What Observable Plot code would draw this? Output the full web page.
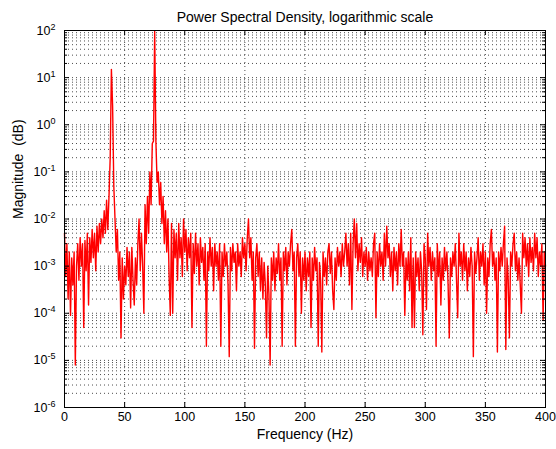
<!DOCTYPE html>
<html>
<head>
<meta charset="utf-8">
<script src="https://cdn.jsdelivr.net/npm/d3@7"></script>
<script src="https://cdn.jsdelivr.net/npm/@observablehq/plot@0.6"></script>
<style>
  html, body { margin: 0; padding: 0; background: #fff; }
</style>
</head>
<body>
<script>
// ---- Data ----
const titleText = "Power Spectral Density, logarithmic scale";
const xLabel = "Frequency (Hz)";
const yLabel = "Magnitude  (dB)";
const xTicks = [0, 50, 100, 150, 200, 250, 300, 350, 400];
const yTicks = [1e-6, 1e-5, 1e-4, 1e-3, 1e-2, 1e-1, 1e0, 1e1, 1e2];
const yTickLabels = ["10^-6", "10^-5", "10^-4", "10^-3", "10^-2", "10^-1", "10^0", "10^1", "10^2"];
const freqStart = 0;   // Hz
const freqStep = 1;    // Hz between spectrum samples
const magnitude = [
  5e-3,6e-4,3e-3,2e-4,2e-3,9e-5,1.5e-3,4e-4,2e-3,8e-6,
  1e-3,3e-3,5e-4,4e-3,1e-3,3e-3,5e-5,3.5e-3,8e-4,5e-3,
  1.5e-4,4e-3,1.2e-3,6e-3,1.5e-3,5e-3,8e-4,7e-3,2e-3,8e-3,
  3e-3,1e-2,4e-3,1.5e-2,5e-3,2.5e-2,6e-3,3e-2,0.2,15,
  2.5,5e-2,1e-2,2e-3,6e-3,5e-4,2e-3,3e-5,1.5e-3,2e-4,
  1e-3,4e-4,2.5e-3,6e-4,2e-3,1.3e-4,2.5e-3,5e-4,1.5e-4,1.5e-3,
  4e-4,3e-3,1e-2,8e-4,5e-3,1e-3,1e-4,2e-2,3e-3,3e-2,
  5e-3,0.1,2e-2,0.4,0.45,95,0.45,6e-2,0.1,2e-2,
  6e-2,8e-3,3e-2,3e-3,1.5e-2,2e-3,1e-2,6e-4,9e-5,8e-3,
  1e-4,6e-3,1.5e-3,5e-3,5e-4,8e-3,1.5e-3,4e-3,6e-4,1e-2,
  2e-3,6e-3,8e-4,4e-3,1.5e-3,5e-3,5e-5,3e-3,7e-4,5e-3,
  1e-3,3e-3,4e-4,4e-3,1.2e-3,2.5e-3,5e-4,3e-3,2e-5,2e-3,
  8e-4,4e-3,1e-3,2.5e-3,3e-4,3e-3,1e-3,2e-3,5e-4,3e-3,
  2e-5,2e-3,6e-4,3e-3,1e-3,2e-3,4e-4,1.2e-5,2.5e-3,8e-4,
  3e-3,1.2e-3,2e-3,3e-4,3e-3,1e-3,2e-3,6e-4,4e-3,1.5e-3,
  3e-3,8e-4,4e-3,1e-2,1.5e-3,4e-3,5e-4,2e-3,1.8e-5,1.5e-3,
  3e-3,6e-4,2e-3,3e-4,1.5e-3,2e-4,1.2e-3,4e-4,3e-5,1e-3,
  2.5e-4,8e-6,1.5e-3,5e-4,2e-3,3e-4,1.5e-3,7e-4,3e-3,5e-4,
  1.5e-3,2e-5,2e-3,8e-4,2.5e-3,4e-4,2e-3,1e-3,3e-3,6e-3,
  8e-4,2e-3,2e-5,1.5e-3,3e-3,6e-4,2e-3,1e-4,1.5e-3,5e-4,
  2e-3,3e-4,1.5e-3,6e-4,2e-3,5e-5,1.5e-3,5e-4,2.5e-3,8e-4,
  1.5e-3,2e-5,1.2e-3,5e-4,1.5e-5,2e-3,6e-4,1.5e-3,4e-4,2e-3,
  3e-3,7e-4,2e-3,3e-4,1.2e-4,1.5e-3,5e-4,2.5e-3,1e-3,2e-3,
  6e-4,3e-3,1e-3,2e-3,5e-3,1e-3,3e-3,4e-4,5e-3,1.2e-4,
  3e-3,1e-2,1.5e-3,8e-3,8e-4,3e-3,1.2e-3,4e-3,6e-4,2e-3,
  1e-3,2.5e-3,5e-4,2e-3,8e-4,1.5e-3,6e-4,3e-3,5e-3,8e-5,
  2e-3,6e-4,3e-3,1e-3,2e-3,5e-4,5e-3,1e-3,7e-3,1.5e-3,
  3e-3,6e-4,2e-3,3e-4,2.5e-3,8e-4,2e-3,4e-4,3e-3,1e-3,
  6e-3,1e-3,2e-3,9e-5,1.5e-3,5e-4,2e-3,3e-4,4e-3,5e-5,
  1.5e-3,5e-5,2e-3,6e-4,1.5e-3,3e-4,2e-3,8e-4,3.5e-5,3e-3,
  1.5e-3,1.2e-4,5e-3,1e-3,2.5e-3,5e-4,2e-3,8e-4,1.5e-3,2e-5,
  3e-3,6e-4,2e-3,1.5e-4,1.5e-3,5e-4,2.5e-3,8e-4,2e-3,4e-4,
  3e-5,1.5e-3,6e-4,2e-3,1e-3,3e-3,5e-4,8e-5,5e-3,1e-3,
  2e-3,5e-4,3e-3,8e-4,2e-3,3e-4,1.5e-3,6e-4,2.5e-3,1e-3,
  1.2e-5,2e-3,7e-4,1.5e-3,4e-3,5e-4,2e-3,1e-3,3e-3,4e-4,
  2e-3,1e-4,1.5e-3,6e-4,3e-3,6e-3,1e-3,2e-3,5e-4,1.5e-3,
  1.5e-5,2e-3,8e-4,2.5e-3,1e-3,3e-3,7e-3,1.7e-5,1.5e-3,5e-4,
  3e-5,2e-3,1e-3,3e-3,5e-3,8e-4,2e-3,5e-4,1.5e-3,4e-4,
  1e-4,5e-3,1.5e-3,4e-3,1e-3,3e-3,6e-4,4e-3,1.2e-3,2.5e-3,
  8e-4,5e-3,1.5e-3,4e-3,6e-4,2e-3,1e-3,3e-3,7e-5,2e-3,
  1e-3
];

// ---- Derived tables ----
const spectrum = magnitude.map((m, i) => ({f: freqStart + i * freqStep, m}));
const yMinor = [];
yTicks.slice(0, -1).forEach(d => { for (let k = 2; k <= 9; k++) yMinor.push(d * k); });
const yGrid = yTicks.slice(1, -1).concat(yMinor);
const xGrid = xTicks.slice(1, -1);

// ---- Layout ----
const W = 556, H = 449;
const mL = 64, mR = 11, mT = 30, mB = 42;
const pw = W - mL - mR, ph = H - mT - mB;
const font = "'Liberation Sans', Arial, Helvetica, sans-serif";
const dotted = {stroke: "#000", strokeWidth: 1, strokeDasharray: "1,3", strokeOpacity: 0.7};

const chart = Plot.plot({
  width: W, height: H,
  marginLeft: mL, marginRight: mR, marginTop: mT, marginBottom: mB,
  style: {fontFamily: font, fontSize: "12.5px", color: "#000", background: "#fff", overflow: "visible"},
  x: {domain: [0, 400]},
  y: {type: "log", domain: [1e-6, 1e2]},
  marks: [
    Plot.ruleY(yGrid, {y: d => d, ...dotted}),
    Plot.ruleX(xGrid, {x: d => d, ...dotted}),
    Plot.line(spectrum, {x: "f", y: "m", stroke: "#ff0000", strokeWidth: 1.4}),
    // inward tick marks (MATLAB style)
    Plot.tickY(yTicks, {y: d => d, stroke: "#000", insetRight: pw - 5}),
    Plot.tickY(yTicks, {y: d => d, stroke: "#000", insetLeft: pw - 5}),
    Plot.tickY(yMinor, {y: d => d, stroke: "#000", insetRight: pw - 3}),
    Plot.tickY(yMinor, {y: d => d, stroke: "#000", insetLeft: pw - 3}),
    Plot.tickX(xTicks, {x: d => d, stroke: "#000", insetTop: ph - 5}),
    Plot.tickX(xTicks, {x: d => d, stroke: "#000", insetBottom: ph - 5}),
    Plot.axisX({ticks: xTicks, tickSize: 0, tickPadding: 5, tickFormat: d => String(d), label: null}),
    Plot.axisY({ticks: yTicks, tickSize: 0, tickPadding: 9,
                tickFormat: d => yTickLabels[yTicks.findIndex(t => Math.abs(Math.log10(t) - Math.log10(d)) < 1e-6)],
                label: null}),
    Plot.frame({stroke: "#000"}),
    Plot.text([titleText], {text: d => d, frameAnchor: "top", dy: -18, fontSize: 14}),
    Plot.text([xLabel], {text: d => d, frameAnchor: "bottom", dy: 31, fontSize: 14}),
    Plot.text([yLabel], {text: d => d, frameAnchor: "left", dx: -46, rotate: -90, fontSize: 14})
  ]
});

// superscript exponents on the y tick labels
const NS = "http://www.w3.org/2000/svg";
chart.querySelectorAll('g[aria-label="y-axis tick label"] text').forEach(t => {
  const parts = t.textContent.split("^");
  if (parts.length === 2) {
    t.textContent = parts[0];
    const ts = document.createElementNS(NS, "tspan");
    ts.setAttribute("dy", "-0.55em");
    ts.setAttribute("font-size", "9");
    ts.textContent = parts[1];
    t.appendChild(ts);
  }
});
document.body.appendChild(chart);
</script>
</body>
</html>
